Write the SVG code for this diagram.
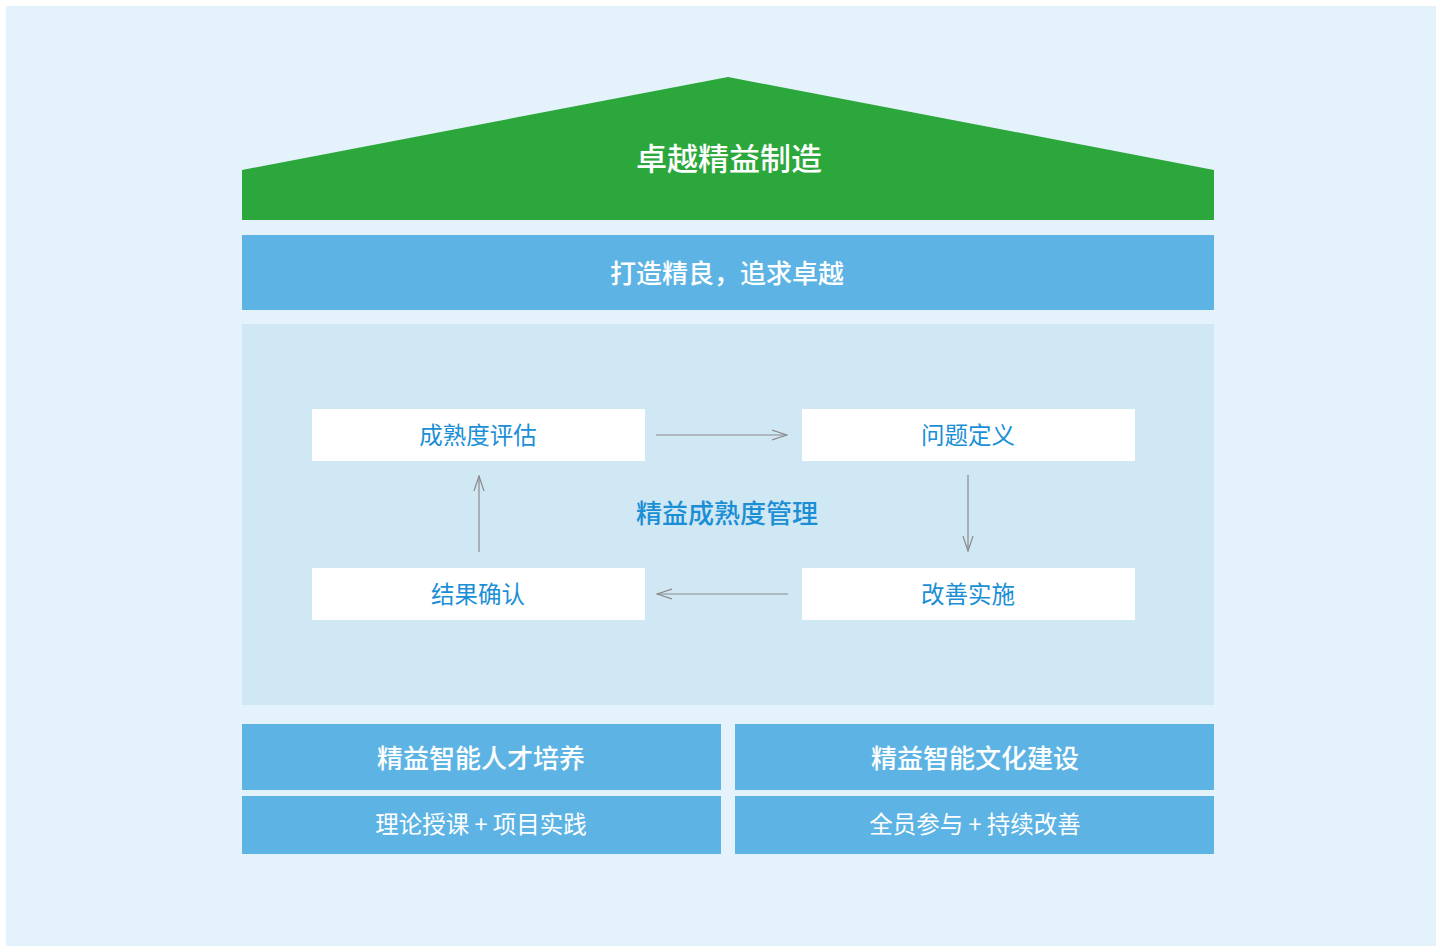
<svg xmlns="http://www.w3.org/2000/svg" width="1436" height="946" viewBox="0 0 1436 946">
<defs>
<style>
.t{font-family:"Noto Sans CJK SC","Noto Sans",sans-serif;text-anchor:middle;dominant-baseline:central}
.w{fill:#ffffff}
.b{fill:#1a8fd6}
.h{font-weight:500}
.band{fill:#5db4e4}
.box{fill:#ffffff}
.conn{stroke:#8a8a8a;stroke-width:1.2;fill:none;marker-end:url(#ah)}
</style>
<marker id="ah" viewBox="0 0 16 12" refX="15" refY="6" markerWidth="16" markerHeight="12" markerUnits="userSpaceOnUse" orient="auto">
<path d="M0,1 L15,6 L0,11" fill="none" stroke="#8a8a8a" stroke-width="1.2"/>
</marker>
</defs>
<rect x="0" y="0" width="1436" height="946" fill="#ffffff"/>
<rect x="6" y="6" width="1430" height="940" fill="#e4f2fb"/>
<g id="roof">
<polygon points="242,170 728,77 1214,170 1214,220 242,220" fill="#2ca73b"/>
<text class="t w h" x="729" y="156" font-size="31">卓越精益制造</text>
</g>
<g id="vision">
<rect class="band" x="242" y="235" width="972" height="75"/>
<text class="t w h" x="727" y="271" font-size="26">打造精良，追求卓越</text>
</g>
<g id="maturity">
<rect x="242" y="324" width="972" height="381" fill="#d0e7f4"/>
<text class="t b h" x="727" y="511" font-size="26">精益成熟度管理</text>
</g>
<g id="assess">
<rect class="box" x="312" y="409" width="333" height="52"/>
<text class="t b" x="478" y="434" font-size="23.5">成熟度评估</text>
</g>
<g id="define">
<rect class="box" x="802" y="409" width="333" height="52"/>
<text class="t b" x="968" y="434" font-size="23.5">问题定义</text>
</g>
<g id="implement">
<rect class="box" x="802" y="568" width="333" height="52"/>
<text class="t b" x="968" y="593" font-size="23.5">改善实施</text>
</g>
<g id="confirm">
<rect class="box" x="312" y="568" width="333" height="52"/>
<text class="t b" x="478" y="593" font-size="23.5">结果确认</text>
</g>
<g id="connectors">
<line class="conn" x1="656" y1="435" x2="787" y2="435"/>
<line class="conn" x1="968" y1="475" x2="968" y2="551"/>
<line class="conn" x1="788" y1="594" x2="657" y2="594"/>
<line class="conn" x1="479" y1="552" x2="479" y2="476"/>
</g>
<g id="talent">
<rect class="band" x="242" y="724" width="479" height="66"/>
<text class="t w h" x="481" y="756" font-size="26">精益智能人才培养</text>
</g>
<g id="culture">
<rect class="band" x="735" y="724" width="479" height="66"/>
<text class="t w h" x="975" y="756" font-size="26">精益智能文化建设</text>
</g>
<g id="training">
<rect class="band" x="242" y="796" width="479" height="58"/>
<text class="t w" x="481" y="823" font-size="23.5">理论授课 + 项目实践</text>
</g>
<g id="participation">
<rect class="band" x="735" y="796" width="479" height="58"/>
<text class="t w" x="975" y="823" font-size="23.5">全员参与 + 持续改善</text>
</g>
</svg>
